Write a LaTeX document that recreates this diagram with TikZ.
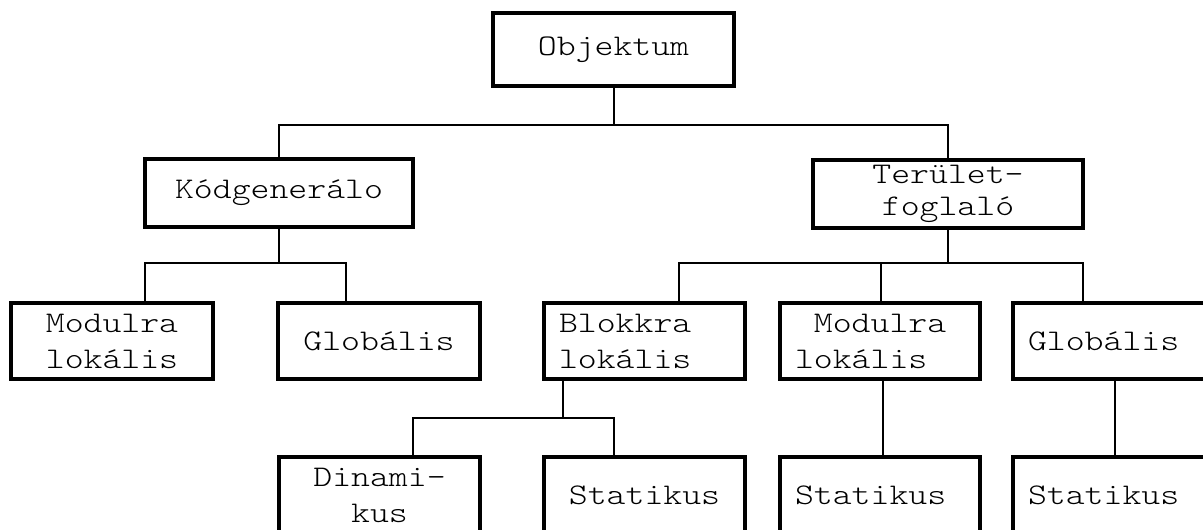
\documentclass[tikz,border=0pt]{standalone}
\usepackage{fontspec}
\newfontfamily\cour[Extension=.otf, FakeStretch=1.2]{lmmonolt10-regular}
\begin{document}
\begin{tikzpicture}[x=1pt,y=-1pt,
  box/.style={draw, line width=4pt, rectangle, inner xsep=0pt, inner ysep=0pt,
    font={\cour\fontsize{30}{36}\selectfont}, align=center},
  leftbox/.style={box, inner xsep=15pt, align=left},
  conn/.style={line width=2pt}]
\useasboundingbox[fill=white] (0,0) rectangle (1203,530);
% level 0
\node[box, minimum height=73pt, text width=241pt] (obj) at (613.5,49.5) {Objektum};
% level 1
\node[box, minimum height=68pt, text width=268pt] (kod) at (279,193) {Kódgenerálo};
\node[box, minimum height=68pt, text width=270pt, font={\cour\fontsize{30}{32}\selectfont}] (ter) at (948,194) {Terület-\\foglaló};
% level 2
\node[box, minimum height=76pt, text width=202pt] (mod1) at (112,341) {Modulra\\lokális};
\node[box, minimum height=76pt, text width=202pt] (glob1) at (379,341) {Globális};
\node[leftbox, minimum height=76pt, text width=171pt] (blok) at (644.5,341) {Blokkra\\lokális};
\node[leftbox, minimum height=76pt, text width=170pt] (mod2) at (880,341) {\hspace*{0.63em}Modulra\\lokális};
\node[leftbox, minimum height=76pt, text width=170pt] (glob2) at (1113,341) {Globális};
% level 3
\node[box, minimum height=76pt, text width=201pt] (dina) at (379.5,495) {Dinami-\\kus};
\node[box, minimum height=76pt, text width=201pt] (stat1) at (644.5,495) {Statikus};
\node[leftbox, minimum height=76pt, text width=170pt] (stat2) at (880,495) {Statikus};
\node[leftbox, minimum height=76pt, text width=170pt] (stat3) at (1113,495) {Statikus};
% connectors
\draw[conn] (obj.south) -- (obj.south |- 0,125);
\draw[conn] (kod.north) |- (ter.north |- 0,125) -- (ter.north);
\draw[conn] (kod.south) -- (kod.south |- 0,263);
\draw[conn] (mod1.north -| 145,0) |- (346,263) -- (glob1.north -| 346,0);
\draw[conn] (ter.south) -- (ter.south |- 0,263);
\draw[conn] (blok.north -| 679,0) |- (1083,263) -- (glob2.north -| 1083,0);
\draw[conn] (mod2.north -| 881,0) -- (881,263);
\draw[conn] (blok.south -| 563,0) -- (563,418);
\draw[conn] (dina.north -| 413,0) |- (614,418) -- (stat1.north -| 614,0);
\draw[conn] (mod2.south -| 883,0) -- (stat2.north -| 883,0);
\draw[conn] (glob2.south -| 1115,0) -- (stat3.north -| 1115,0);
\end{tikzpicture}
\end{document}
